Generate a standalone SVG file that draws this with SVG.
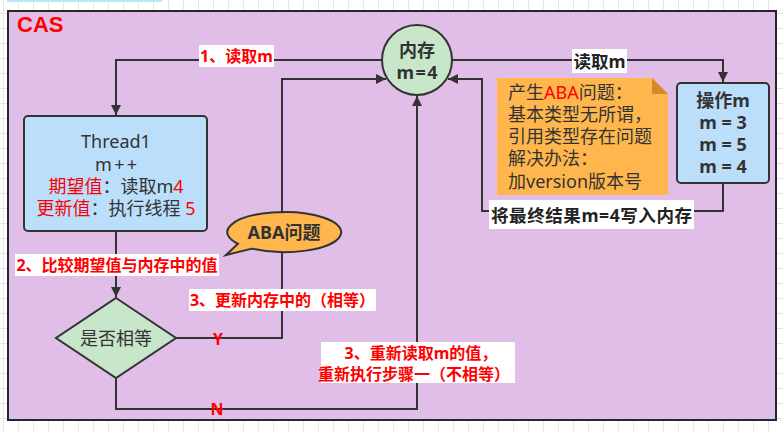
<svg xmlns="http://www.w3.org/2000/svg" width="783" height="431" viewBox="0 0 783 431">
<defs>
<pattern id="grid" patternUnits="userSpaceOnUse" x="3" y="13" width="15" height="15">
<rect x="0" y="0" width="15" height="1" fill="#e6e6e6"/>
<rect x="0" y="0" width="1" height="15" fill="#e6e6e6"/>
</pattern>
<marker id="arr" viewBox="0 0 10 10" refX="10" refY="5" markerWidth="10" markerHeight="10" markerUnits="userSpaceOnUse" orient="auto">
<path d="M0,0 L10,5 L0,10 Z" fill="#333"/>
</marker>
<style>
.node{stroke:#333;stroke-width:2;}
.blue{fill:#bbdefb;}
.green{fill:#c8e6c9;}
.orange{fill:#ffb74d;}
.txt{font-family:"Noto Sans","Noto Sans CJK SC",sans-serif;font-size:18px;fill:#333;}
.btxt{font-family:"Noto Sans","Noto Sans CJK SC",sans-serif;font-size:18px;font-weight:bold;fill:#333;}
.red{fill:#ff0000;}
.lbl{font-family:"Noto Sans","Noto Sans CJK SC",sans-serif;font-size:16px;font-weight:bold;fill:#ff0000;}
.blbl{font-family:"Noto Sans","Noto Sans CJK SC",sans-serif;font-size:17.5px;font-weight:bold;fill:#222;}
.line{fill:none;stroke:#333;stroke-width:2;}
.bg{fill:#ffffff;}
</style>
</defs>
<rect x="0" y="0" width="783" height="431" fill="#ffffff"/>
<rect x="0" y="0" width="783" height="431" fill="url(#grid)"/>
<rect x="7" y="0" width="155" height="2" fill="#b2ebf2"/>

<g id="frame">
<rect x="8" y="11" width="768" height="409" fill="#e1bee7" stroke="#23272e" stroke-width="2"/>
<text x="17" y="32" font-family="Liberation Sans, Arial, sans-serif" font-size="22" font-weight="bold" fill="#ff0000">CAS</text>
</g>

<g id="connectors">
<path class="line" d="M382,60 H116 V115" marker-end="url(#arr)"/>
<path class="line" d="M116,231 V297" marker-end="url(#arr)"/>
<path class="line" d="M176,338 H282 V79 H386" marker-end="url(#arr)"/>
<path class="line" d="M116,378 V409 H417 V96" marker-end="url(#arr)"/>
<path class="line" d="M452,60 H723 V82" marker-end="url(#arr)"/>
<path class="line" d="M723,183 V211 H482 V79 H448" marker-end="url(#arr)"/>

<rect class="bg" x="199" y="45" width="75" height="22"/>
<text class="lbl" x="236.5" y="56" text-anchor="middle" dominant-baseline="central">1、读取m</text>

<rect class="bg" x="15" y="254" width="204" height="22"/>
<text class="lbl" x="117" y="265" text-anchor="middle" dominant-baseline="central">2、比较期望值与内存中的值</text>

<rect class="bg" x="189" y="289" width="187" height="22"/>
<text class="lbl" x="282.5" y="300" text-anchor="middle" dominant-baseline="central" font-size="15.5">3、更新内存中的（相等）</text>

<rect class="bg" x="321" y="342" width="194" height="41"/>
<text class="lbl" x="421" y="353" text-anchor="middle" dominant-baseline="central" font-size="16.5">3、重新读取m的值，</text>
<text class="lbl" x="414" y="374" text-anchor="middle" dominant-baseline="central" font-size="16.5">重新执行步骤一（不相等）</text>

<text class="lbl" x="218" y="339" text-anchor="middle" dominant-baseline="central" font-size="18">Y</text>
<text class="lbl" x="217" y="409" text-anchor="middle" dominant-baseline="central" font-size="18">N</text>

<rect class="bg" x="572" y="49" width="55" height="24"/>
<text class="blbl" x="599.5" y="61" text-anchor="middle" dominant-baseline="central">读取m</text>

<rect class="bg" x="489" y="200" width="205" height="29"/>
<text class="blbl" x="591.5" y="214.5" text-anchor="middle" dominant-baseline="central" font-size="18" textLength="201" lengthAdjust="spacing">将最终结果m=4写入内存</text>
</g>

<g id="memory">
<circle class="node green" cx="417" cy="60" r="35"/>
<text class="btxt" x="417" y="50" text-anchor="middle" dominant-baseline="central" font-size="17.5">内存</text>
<text class="btxt" x="417" y="72" text-anchor="middle" dominant-baseline="central" font-size="17.5" textLength="41" lengthAdjust="spacing">m=4</text>
</g>

<g id="thread1">
<rect class="node blue" x="24" y="116" width="183" height="115" rx="4"/>
<text class="txt" x="116" y="141" text-anchor="middle" dominant-baseline="central">Thread1</text>
<text class="txt" x="116" y="164" text-anchor="middle" dominant-baseline="central" textLength="42" lengthAdjust="spacing">m++</text>
<text class="txt" x="116" y="186" text-anchor="middle" dominant-baseline="central"><tspan class="red">期望值</tspan>：读取m<tspan class="red">4</tspan></text>
<text class="txt" x="116" y="208" text-anchor="middle" dominant-baseline="central"><tspan class="red">更新值</tspan>：执行线程 <tspan class="red">5</tspan></text>
</g>

<g id="aba">
<path class="node orange" d="M252,248.6 L226,255 L238,243.8 A57,20 0 1,1 252,248.6 Z"/>
<text class="btxt" x="284" y="232" text-anchor="middle" dominant-baseline="central" font-size="17.5">ABA问题</text>
</g>

<g id="compare">
<path class="node green" d="M116,298 L176,338 L116,378 L56,338 Z"/>
<text class="txt" x="116" y="338" text-anchor="middle" dominant-baseline="central">是否相等</text>
</g>

<g id="note">
<path d="M497,78 H652 L668,94 V195 H497 Z" fill="#ffb74d"/>
<path d="M652,78 L668,94 H652 Z" fill="#d6892a"/>
<text class="txt" x="508" y="92" dominant-baseline="central">产生<tspan class="red">ABA</tspan>问题：</text>
<text class="txt" x="508" y="114" dominant-baseline="central">基本类型无所谓，</text>
<text class="txt" x="508" y="136" dominant-baseline="central">引用类型存在问题</text>
<text class="txt" x="508" y="158" dominant-baseline="central">解决办法：</text>
<text class="txt" x="508" y="181" dominant-baseline="central">加version版本号</text>
</g>

<g id="operate">
<rect class="node blue" x="677" y="83" width="92" height="100" rx="4"/>
<text class="btxt" x="723" y="100" text-anchor="middle" dominant-baseline="central">操作m</text>
<text class="btxt" x="723" y="122" text-anchor="middle" dominant-baseline="central">m = 3</text>
<text class="btxt" x="723" y="144" text-anchor="middle" dominant-baseline="central">m = 5</text>
<text class="btxt" x="723" y="166" text-anchor="middle" dominant-baseline="central">m = 4</text>
</g>
</svg>
